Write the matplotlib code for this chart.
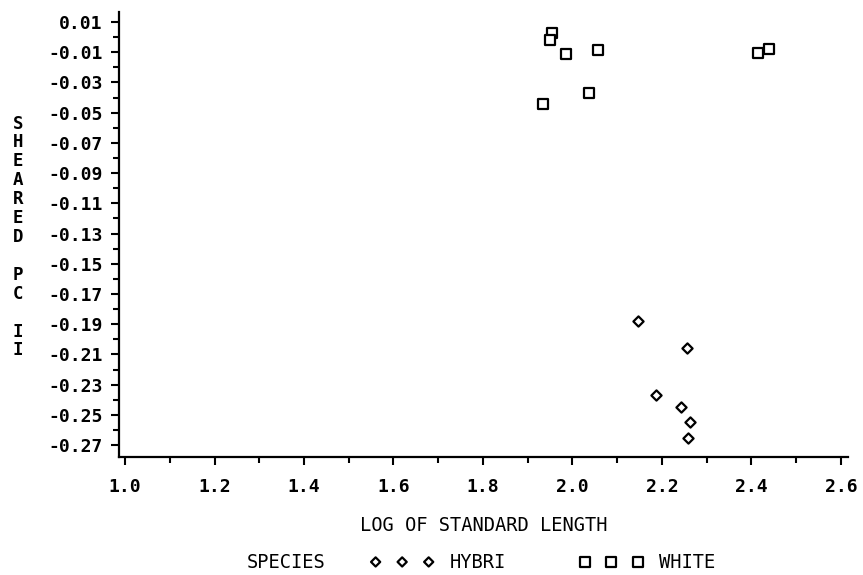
import numpy as np
import matplotlib.pyplot as plt
from matplotlib.ticker import FixedLocator, MultipleLocator

# Log of standard length vs sheared PC II, by species
hybri_x = [2.146, 2.257, 2.187, 2.242, 2.262, 2.259]
hybri_y = [-0.1877, -0.2058, -0.2367, -0.2448, -0.2550, -0.2654]

white_x = [1.954, 1.949, 1.986, 2.057, 2.037, 1.934, 2.414, 2.440]
white_y = [0.0029, -0.0016, -0.0109, -0.0087, -0.0372, -0.0442, -0.0104, -0.0077]

x_ticks = [1.0, 1.2, 1.4, 1.6, 1.8, 2.0, 2.2, 2.4, 2.6]
y_ticks = [0.01, -0.01, -0.03, -0.05, -0.07, -0.09, -0.11, -0.13,
           -0.15, -0.17, -0.19, -0.21, -0.23, -0.25, -0.27]
y_tick_labels = ['%.2f' % v for v in y_ticks]
x_tick_labels = ['%.1f' % v for v in x_ticks]

plt.rcParams['font.family'] = ['DejaVu Sans Mono']

fig = plt.figure(figsize=(8.63, 5.75), dpi=100)
ax = fig.add_axes([0.1382, 0.2057, 0.8444, 0.7734])

h1 = ax.scatter(hybri_x, hybri_y, marker='D', s=27, facecolors='white',
                edgecolors='black', linewidths=1.6, label='HYBRI')
h2 = ax.scatter(white_x, white_y, marker='s', s=62, facecolors='white',
                edgecolors='black', linewidths=1.6, label='WHITE')

ax.set_xlim(0.987, 2.616)
ax.set_ylim(-0.2777, 0.0166)

ax.xaxis.set_major_locator(FixedLocator(x_ticks))
ax.xaxis.set_minor_locator(MultipleLocator(0.1))
ax.set_xticklabels(x_tick_labels)
ax.yaxis.set_major_locator(FixedLocator(y_ticks))
ax.yaxis.set_minor_locator(MultipleLocator(0.02))
ax.set_yticklabels(y_tick_labels)

for s in ['top', 'right']:
    ax.spines[s].set_visible(False)
for s in ['left', 'bottom']:
    ax.spines[s].set_linewidth(1.6)

ax.tick_params(axis='both', which='major', direction='out', length=6,
               width=1.5, labelsize=13)
ax.tick_params(axis='both', which='minor', direction='out', length=4, width=1.5)
ax.tick_params(axis='y', which='major', pad=6)
ax.tick_params(axis='x', which='major', pad=9)
for lab in ax.get_xticklabels() + ax.get_yticklabels():
    lab.set_fontweight('bold')

ax.set_xlabel('LOG OF STANDARD LENGTH', fontsize=13.5, labelpad=15)

# stacked vertical y label
fig.text(18 / 863, 1 - 237 / 575, 'S\nH\nE\nA\nR\nE\nD\n \nP\nC\n \nI\nI',
         ha='center', va='center', fontsize=12.5, fontweight='bold',
         linespacing=1.065)

# legend row at the bottom
fig.text(286 / 863, 1 - 563 / 575, 'SPECIES', ha='center', va='center', fontsize=13.5)
fig.legend(handles=[h1, h2], loc='center left', bbox_to_anchor=(370 / 863, 1 - 563 / 575),
           ncol=2, frameon=False, scatterpoints=3, scatteryoffsets=[0.5],
           markerscale=0.9, fontsize=13.5, borderpad=0, borderaxespad=0,
           columnspacing=3.9, handletextpad=0.82, handlelength=3.43)

plt.savefig('out.png', dpi=100)
